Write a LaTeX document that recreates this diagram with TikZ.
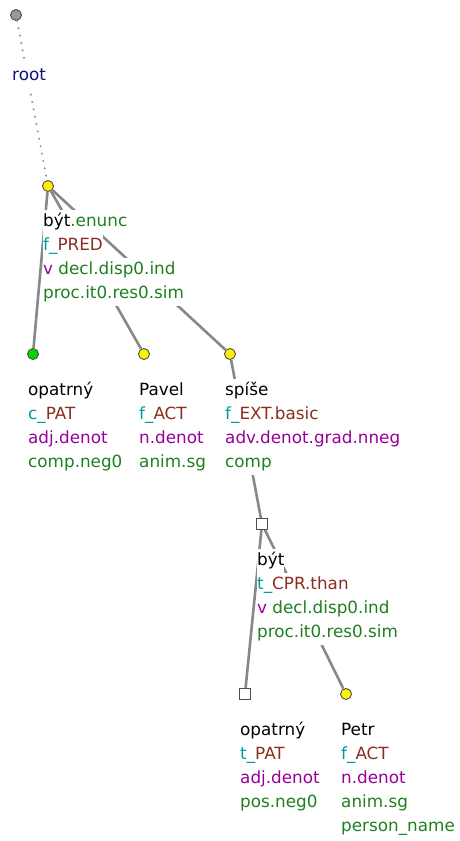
\documentclass[tikz,border=0pt]{standalone}
\usepackage{fontspec}
\setmainfont{DejaVu Sans}
\definecolor{ftype}{HTML}{009A9A}
\definecolor{functor}{HTML}{8B2E1F}
\definecolor{sempos}{HTML}{990099}
\definecolor{gram}{HTML}{1F801F}
\definecolor{rootblue}{HTML}{101080}
\definecolor{linegray}{HTML}{888888}
\tikzset{
  tnode/.style={circle,draw=black!70,line width=0.9pt,minimum size=11pt,inner sep=0pt},
  hnode/.style={rectangle,draw=black!70,fill=white,line width=0.9pt,minimum size=11pt,inner sep=0pt},
  lbl/.style={anchor=base west,fill=white,inner xsep=0pt,inner ysep=3pt,text height=13pt,text depth=5pt,font=\fontsize{16.8}{20}\selectfont},
  treeline/.style={draw=linegray,line width=2.6pt},
  rootline/.style={draw=black!45,line width=2.2pt,line cap=round,dash pattern=on 0pt off 7.5pt}
}
\begin{document}
\begin{tikzpicture}[x=1pt,y=-1pt]
\useasboundingbox (0,0) rectangle (460,841);

% tree nodes
\node[tnode,fill=black!40] (root) at (16,15) {};
\node[tnode,fill=yellow] (byt) at (48,186) {};
\node[tnode,fill=green!85!black] (opatrny) at (33,354) {};
\node[tnode,fill=yellow] (pavel) at (144,354) {};
\node[tnode,fill=yellow] (spise) at (230,354) {};
\node[hnode] (bytb) at (262,524) {};
\node[hnode] (opatrnyb) at (245,694) {};
\node[tnode,fill=yellow] (petr) at (346,694) {};

% edges
\draw[rootline] (root) -- (byt);
\draw[treeline] (byt) -- (opatrny);
\draw[treeline] (byt) -- (pavel);
\draw[treeline] (byt) -- (spise);
\draw[treeline] (spise) -- (bytb);
\draw[treeline] (bytb) -- (opatrnyb);
\draw[treeline] (bytb) -- (petr);

% labels
\node[lbl,text=rootblue] (root1) at (12,80) {root};

\node[lbl] (byt1) at (43,226) {být\textcolor{gram}{.enunc}};
\node[lbl] (byt2) at (43,250) {\textcolor{ftype}{f\_}\textcolor{functor}{PRED}};
\node[lbl] (byt3) at (43,274) {\textcolor{sempos}{v} \textcolor{gram}{decl.disp0.ind}};
\node[lbl,text=gram] (byt4) at (43,298) {proc.it0.res0.sim};

\node[lbl] (opatrny1) at (28,395) {opatrný};
\node[lbl] (opatrny2) at (28,419) {\textcolor{ftype}{c\_}\textcolor{functor}{PAT}};
\node[lbl,text=sempos] (opatrny3) at (28,443) {adj.denot};
\node[lbl,text=gram] (opatrny4) at (28,467) {comp.neg0};

\node[lbl] (pavel1) at (139,395) {Pavel};
\node[lbl] (pavel2) at (139,419) {\textcolor{ftype}{f\_}\textcolor{functor}{ACT}};
\node[lbl,text=sempos] (pavel3) at (139,443) {n.denot};
\node[lbl,text=gram] (pavel4) at (139,467) {anim.sg};

\node[lbl] (spise1) at (225,395) {spíše};
\node[lbl] (spise2) at (225,419) {\textcolor{ftype}{f\_}\textcolor{functor}{EXT.basic}};
\node[lbl,text=sempos] (spise3) at (225,443) {adv.denot.grad.nneg};
\node[lbl,text=gram] (spise4) at (225,467) {comp};

\node[lbl] (bytb1) at (257,565) {být};
\node[lbl] (bytb2) at (257,589) {\textcolor{ftype}{t\_}\textcolor{functor}{CPR.than}};
\node[lbl] (bytb3) at (257,613) {\textcolor{sempos}{v} \textcolor{gram}{decl.disp0.ind}};
\node[lbl,text=gram] (bytb4) at (257,637) {proc.it0.res0.sim};

\node[lbl] (opatrnyb1) at (240,735) {opatrný};
\node[lbl] (opatrnyb2) at (240,759) {\textcolor{ftype}{t\_}\textcolor{functor}{PAT}};
\node[lbl,text=sempos] (opatrnyb3) at (240,783) {adj.denot};
\node[lbl,text=gram] (opatrnyb4) at (240,807) {pos.neg0};

\node[lbl] (petr1) at (341,735) {Petr};
\node[lbl] (petr2) at (341,759) {\textcolor{ftype}{f\_}\textcolor{functor}{ACT}};
\node[lbl,text=sempos] (petr3) at (341,783) {n.denot};
\node[lbl,text=gram] (petr4) at (341,807) {anim.sg};
\node[lbl,text=gram] (petr5) at (341,831) {person\_name};
\end{tikzpicture}
\end{document}
